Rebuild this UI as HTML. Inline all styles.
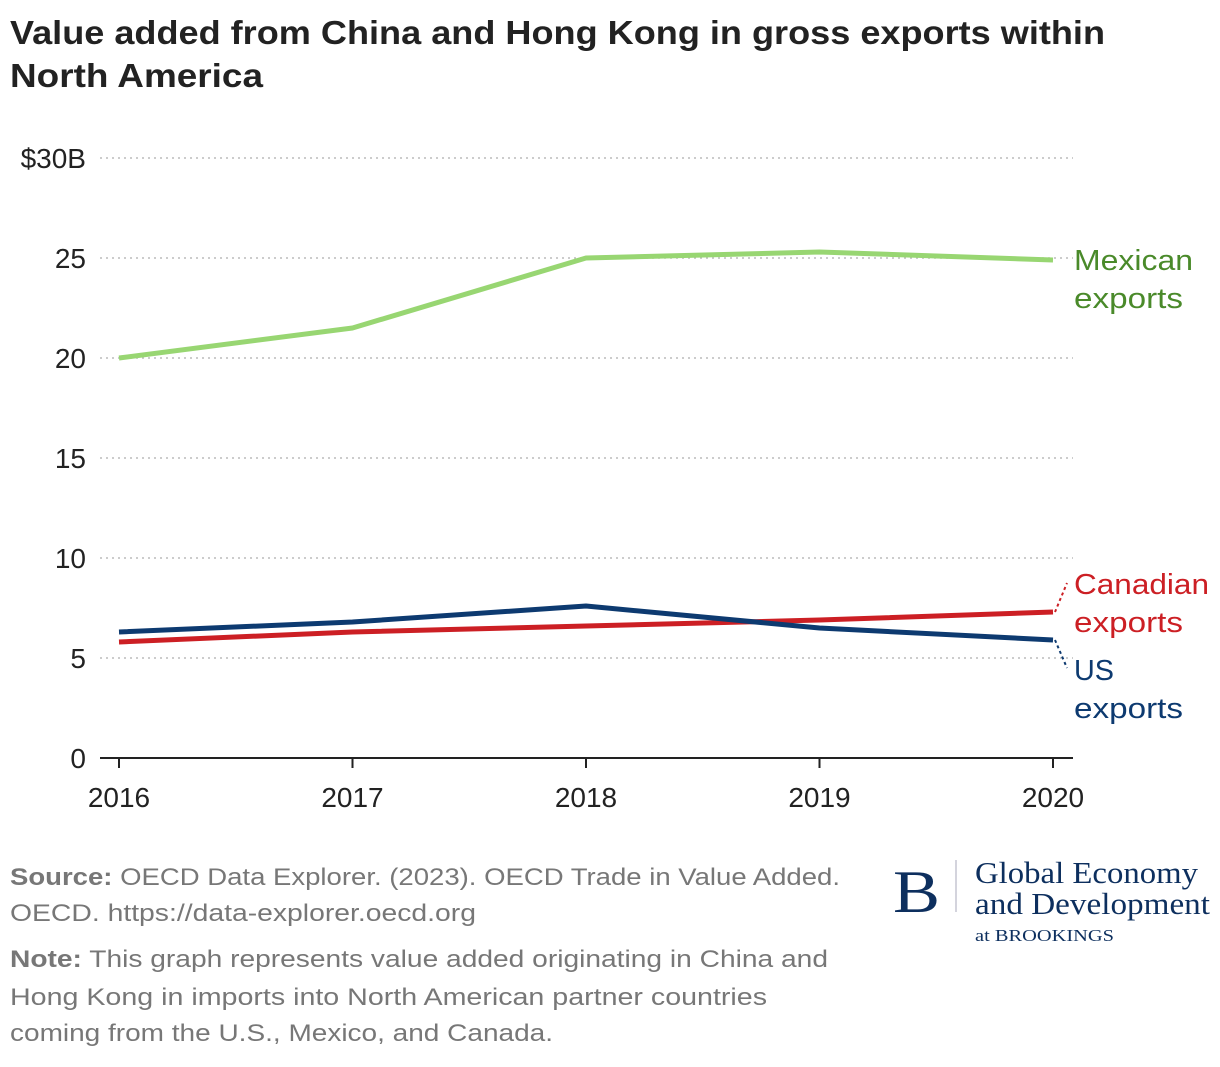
<!DOCTYPE html>
<html><head><meta charset="utf-8"><style>
body{margin:0;background:#fff;width:1220px;height:1062px;overflow:hidden;font-family:"Liberation Sans",sans-serif;}
</style></head><body>
<svg width="1220" height="1062" xmlns="http://www.w3.org/2000/svg" id="chart">
<text x="10" y="44" font-size="33" font-weight="bold" fill="#222" textLength="1095" lengthAdjust="spacingAndGlyphs">Value added from China and Hong Kong in gross exports within</text>
<text x="10" y="87" font-size="33" font-weight="bold" fill="#222" textLength="253" lengthAdjust="spacingAndGlyphs">North America</text>
<g id="grid"></g><g id="series"></g>
<g font-size="24" fill="#777">
<text x="10" y="885" textLength="830" lengthAdjust="spacingAndGlyphs"><tspan font-weight="bold">Source:</tspan> OECD Data Explorer. (2023). OECD Trade in Value Added.</text>
<text x="10" y="921" textLength="466" lengthAdjust="spacingAndGlyphs">OECD. https://data-explorer.oecd.org</text>
<text x="10" y="967" textLength="818" lengthAdjust="spacingAndGlyphs"><tspan font-weight="bold">Note:</tspan> This graph represents value added originating in China and</text>
<text x="10" y="1005" textLength="757" lengthAdjust="spacingAndGlyphs">Hong Kong in imports into North American partner countries</text>
<text x="10" y="1041" textLength="543" lengthAdjust="spacingAndGlyphs">coming from the U.S., Mexico, and Canada.</text>
</g>
<g fill="#0d2f5e" font-family="Liberation Serif,serif">
<text x="893" y="912" font-size="60" textLength="47" lengthAdjust="spacingAndGlyphs">B</text>
<line x1="956" y1="860" x2="956" y2="912" stroke="#aab" stroke-width="1"/>
<text x="975" y="883" font-size="31" textLength="223" lengthAdjust="spacingAndGlyphs">Global Economy</text>
<text x="975" y="914" font-size="31" textLength="235" lengthAdjust="spacingAndGlyphs">and Development</text>
<text x="975" y="941" font-size="17" textLength="139" lengthAdjust="spacingAndGlyphs">at BROOKINGS</text>
</g>
</svg>
<script>
const years=[2016,2017,2018,2019,2020];
const mexican=[20.0,21.5,25.0,25.3,24.9];
const canadian=[5.8,6.3,6.6,6.9,7.3];
const us=[6.3,6.8,7.6,6.5,5.9];
const yTicks=[0,5,10,15,20,25,30];
const yTickLabels=["0","5","10","15","20","25","$30B"];
const NS="http://www.w3.org/2000/svg";
const x=i=>119+i*233.5, y=v=>758-v*20;
const grid=document.getElementById('grid'), ser=document.getElementById('series');
function mk(t,a,p){const e=document.createElementNS(NS,t);for(const k in a)e.setAttribute(k,a[k]);p.appendChild(e);return e;}
yTicks.forEach((v,i)=>{
 if(v>0){const l=mk('line',{x1:100,x2:1073,y1:y(v),y2:y(v),stroke:'#bbb','stroke-dasharray':'2,4','stroke-width':1.5},grid);
 
 }
 const t=mk('text',{x:86,y:y(v)+10,'font-size':28,fill:'#222','text-anchor':'end'},grid);t.textContent=yTickLabels[i];
 
 
});
const ax=mk('line',{x1:100,x2:1073,y1:758,y2:758,stroke:'#222','stroke-width':2},grid);


years.forEach((yr,i)=>{
 mk('line',{x1:x(i),x2:x(i),y1:758,y2:768,stroke:'#222','stroke-width':2},grid);
 const t=mk('text',{x:x(i),y:807,'font-size':28,fill:'#222','text-anchor':'middle'},grid);t.textContent=yr;
 
 
});
function line(d,c,name){const p=mk('polyline',{points:d.map((v,i)=>x(i)+','+y(v)).join(' '),fill:'none',stroke:c,'stroke-width':5,'stroke-linejoin':'round'},ser);
 
 }
line(mexican,'#98d672','mexican-exports-line');
line(canadian,'#cc1f24','canadian-exports-line');
line(us,'#0d3a70','us-exports-line');
const L=(txt,xx,yy,c,n,w)=>{const t=mk('text',{x:xx,y:yy,'font-size':29,fill:c,textLength:w,lengthAdjust:'spacingAndGlyphs'},ser);t.textContent=txt;
 
 };
L('Mexican',1074,270,'#4a8a2a','mexican-label',119);L('exports',1074,308,'#4a8a2a','mexican-label-2',109);
L('Canadian',1074,594,'#cc1f24','canadian-label',135);L('exports',1074,632,'#cc1f24','canadian-label-2',109);
L('US',1074,680,'#0d3a70','us-label',40);L('exports',1074,718,'#0d3a70','us-label-2',109);
mk('path',{d:`M1055 ${y(canadian[4])} L1067 583`,stroke:'#cc1f24','stroke-width':2,'stroke-dasharray':'3,3',fill:'none'},ser);
mk('path',{d:`M1055 ${y(us[4])} L1067 668`,stroke:'#0d3a70','stroke-width':2,'stroke-dasharray':'3,3',fill:'none'},ser);
</script>
</body></html>
